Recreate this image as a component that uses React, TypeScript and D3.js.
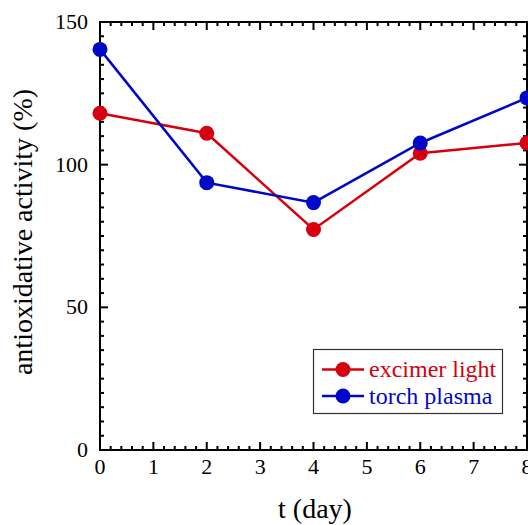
import React, { useEffect, useRef } from 'react';
import * as d3 from 'd3';

// t (day)
const days = [0, 2, 4, 6, 8];
// antioxidative activity (%)
const excimer = [118, 111, 77.3, 104, 107.6];
const torch = [140.4, 93.7, 86.7, 107.6, 123.4];
const seriesNames = ['excimer light', 'torch plasma'];
const seriesColors = ['#d6000f', '#0008c8'];
const xTicks = [0, 1, 2, 3, 4, 5, 6, 7, 8];
const yTicks = [0, 50, 100, 150];

const W = 528, H = 525;
const m = { left: 100, right: 1, top: 22, bottom: 75 };
const FONT = '"Liberation Serif", "Times New Roman", serif';

function App() {
  const ref = useRef<SVGSVGElement>(null);

  useEffect(() => {
    const svg = d3.select(ref.current);
    svg.selectAll('*').remove();
    const x = d3.scaleLinear().domain([0, 8]).range([m.left, W - m.right]);
    const y = d3.scaleLinear().domain([0, 150]).range([H - m.bottom, m.top]);
    const x0 = m.left, x1 = W - m.right, y0 = H - m.bottom, y1 = m.top;

    // ticks point inward on all four sides
    const ax = svg.append('g').attr('stroke', '#000').attr('stroke-width', 2);
    d3.range(0, 8.001, 0.2).forEach(v => {
      const len = Math.abs(v - Math.round(v)) < 1e-6 ? 8 : 4;
      ax.append('line').attr('x1', x(v)).attr('x2', x(v)).attr('y1', y0).attr('y2', y0 - len);
      ax.append('line').attr('x1', x(v)).attr('x2', x(v)).attr('y1', y1).attr('y2', y1 + len);
    });
    d3.range(0, 150.001, 5).forEach(v => {
      const len = v % 50 === 0 ? 8 : 4;
      ax.append('line').attr('x1', x0).attr('x2', x0 + len).attr('y1', y(v)).attr('y2', y(v));
      ax.append('line').attr('x1', x1).attr('x2', x1 - len).attr('y1', y(v)).attr('y2', y(v));
    });
    svg.append('rect').attr('x', x0).attr('y', y1).attr('width', x1 - x0).attr('height', y0 - y1)
      .attr('fill', 'none').attr('stroke', '#000').attr('stroke-width', 2);

    svg.append('g').selectAll('text').data(xTicks).join('text')
      .attr('x', d => x(d)).attr('y', y0 + 24).attr('text-anchor', 'middle')
      .attr('font-family', FONT).attr('font-size', 22).text(d => d);
    svg.append('g').selectAll('text').data(yTicks).join('text')
      .attr('x', x0 - 12).attr('y', d => y(d) + 7).attr('text-anchor', 'end')
      .attr('font-family', FONT).attr('font-size', 22).text(d => d);

    svg.append('text').attr('x', 315).attr('y', 518).attr('text-anchor', 'middle')
      .attr('font-family', FONT).attr('font-size', 28).text('t (day)');
    svg.append('text').attr('transform', 'translate(32,232) rotate(-90)')
      .attr('text-anchor', 'middle').attr('font-family', FONT).attr('font-size', 28)
      .text('antioxidative activity (%)');

    const line = d3.line<number>().x((_, i) => x(days[i])).y(d => y(d));
    [excimer, torch].forEach((s, k) => {
      const g = svg.append('g');
      g.append('path').attr('d', line(s)).attr('fill', 'none')
        .attr('stroke', seriesColors[k]).attr('stroke-width', 2.5);
      g.selectAll('circle').data(s).join('circle')
        .attr('cx', (_, i) => x(days[i])).attr('cy', d => y(d)).attr('r', 7.5)
        .attr('fill', seriesColors[k]);
    });

    // legend
    const lg = svg.append('g');
    lg.append('rect').attr('x', 313.5).attr('y', 349.5).attr('width', 189).attr('height', 64)
      .attr('fill', '#fff').attr('stroke', '#333').attr('stroke-width', 1.2);
    seriesNames.forEach((n, k) => {
      const cy = 369.5 + k * 26.5;
      lg.append('line').attr('x1', 322).attr('x2', 364).attr('y1', cy).attr('y2', cy)
        .attr('stroke', seriesColors[k]).attr('stroke-width', 2.5);
      lg.append('circle').attr('cx', 343).attr('cy', cy).attr('r', 7.5).attr('fill', seriesColors[k]);
      lg.append('text').attr('x', 369).attr('y', cy + 7.5).attr('font-family', FONT)
        .attr('font-size', 24).attr('fill', seriesColors[k]).text(n);
    });
  }, []);

  return (
    <svg ref={ref} width={W} height={H}
      style={{ position: 'absolute', left: 0, top: 0, background: '#fff', overflow: 'hidden' }} />
  );
}

export default App;
